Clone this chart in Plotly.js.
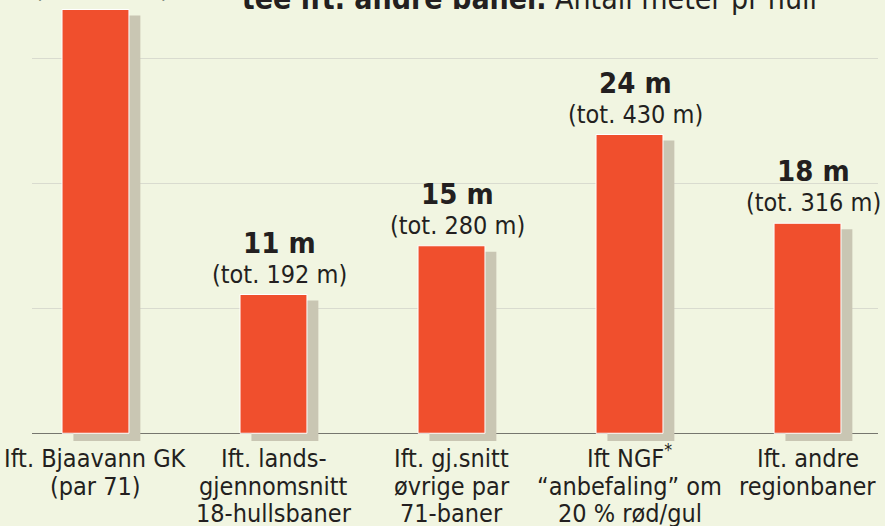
<!DOCTYPE html>
<html>
<head>
<meta charset="utf-8">
<script src="https://cdn.plot.ly/plotly-3.0.1.min.js"></script>
<style>
  html, body { margin: 0; padding: 0; background: #f1f5e1; }
  #chart { width: 885px; height: 526px; }
</style>
</head>
<body>
<div id="chart"></div>
<script>
// ---- data ----
const categories = [
  "Ift. Bjaavann GK (par 71)",
  "Ift. lands-gjennomsnitt 18-hullsbaner",
  "Ift. gj.snitt øvrige par 71-baner",
  "Ift NGF* “anbefaling” om 20 % rød/gul",
  "Ift. andre regionbaner"
];
const tickLines = [
  ["Ift. Bjaavann GK", "(par 71)"],
  ["Ift. lands-", "gjennomsnitt", "18-hullsbaner"],
  ["Ift. gj.snitt", "øvrige par", "71-baner"],
  ["Ift NGF<sup>*</sup>", "“anbefaling” om", "20 % rød/gul"],
  ["Ift. andre", "regionbaner"]
];
const metersPerHole = [33.9, 11.1, 15.0, 23.9, 16.8];   // bar heights
const perHoleLabels = ["34 m", "11 m", "15 m", "24 m", "18 m"];
const totalLabels = ["(tot. 610 m)", "(tot. 192 m)", "(tot. 280 m)", "(tot. 430 m)", "(tot. 316 m)"];
const titleBold = "tee ift. andre baner.";
const titleRest = "Antall meter pr hull";

// ---- style ----
const FONT = "DejaVu Sans Condensed, Liberation Sans Narrow, sans-serif";
const BG = "#f1f5e1";
const RED = "#f04f2d";
const SHADOW = "#c9c6b3";
const TEXT = "#231f20";
const yMin = -0.62, yMax = 34.66;
const barW = 0.376, shadowDx = 0.064, shadowDrop = 0.48;

const redBars = {
  type: "bar",
  x: categories,
  y: metersPerHole,
  width: barW,
  marker: { color: RED, line: { color: "#ffffff", width: 1 } },
  hoverinfo: "skip"
};
const shadowBars = {
  type: "bar",
  x: categories,
  y: metersPerHole.map(v => v - shadowDrop - yMin),
  base: metersPerHole.map(() => yMin),
  width: barW,
  offset: -barW / 2 + shadowDx,
  marker: { color: SHADOW, line: { width: 0 } },
  hoverinfo: "skip"
};

const annotations = [];
categories.forEach((c, i) => {
  annotations.push({
    x: c, y: metersPerHole[i], xref: "x", yref: "y",
    text: "<b>" + perHoleLabels[i] + "</b>", showarrow: false,
    xanchor: "center", yanchor: "bottom", xshift: 6, yshift: 33,
    font: { family: FONT, size: 29, color: TEXT }
  });
  annotations.push({
    x: c, y: metersPerHole[i], xref: "x", yref: "y",
    text: totalLabels[i], showarrow: false,
    xanchor: "center", yanchor: "bottom", xshift: 6, yshift: 4,
    font: { family: FONT, size: 25, color: TEXT }
  });
  tickLines[i].forEach((ln, k) => {
    annotations.push({
      x: c, y: 0, xref: "x", yref: "paper",
      text: ln, showarrow: false,
      xanchor: "center", yanchor: "bottom", yshift: -34 - 27.5 * k,
      font: { family: FONT, size: 25, color: TEXT }
    });
  });
});

const layout = {
  width: 885, height: 526,
  margin: { l: 32, r: 7, t: 0, b: 85, pad: 0 },
  paper_bgcolor: BG, plot_bgcolor: BG,
  showlegend: false,
  barmode: "overlay",
  title: {
    text: "<b>" + titleBold + "</b> " + titleRest,
    font: { family: FONT, size: 30, color: TEXT },
    x: 0.588, xanchor: "center", xref: "paper",
    y: 0.9825, yanchor: "bottom", yref: "container"
  },
  xaxis: {
    type: "category",
    range: [-0.3567, 4.396],
    showticklabels: false, showgrid: false, zeroline: false,
    ticks: "", fixedrange: true
  },
  yaxis: {
    range: [yMin, yMax],
    tick0: 0, dtick: 10,
    showticklabels: false, ticks: "",
    showgrid: true, gridcolor: "#d9dbcf", gridwidth: 1.5,
    zeroline: true, zerolinecolor: "#76766e", zerolinewidth: 1.5,
    fixedrange: true
  },
  annotations: annotations
};

Plotly.newPlot("chart", [shadowBars, redBars], layout, { displayModeBar: false, staticPlot: true });
</script>
</body>
</html>
